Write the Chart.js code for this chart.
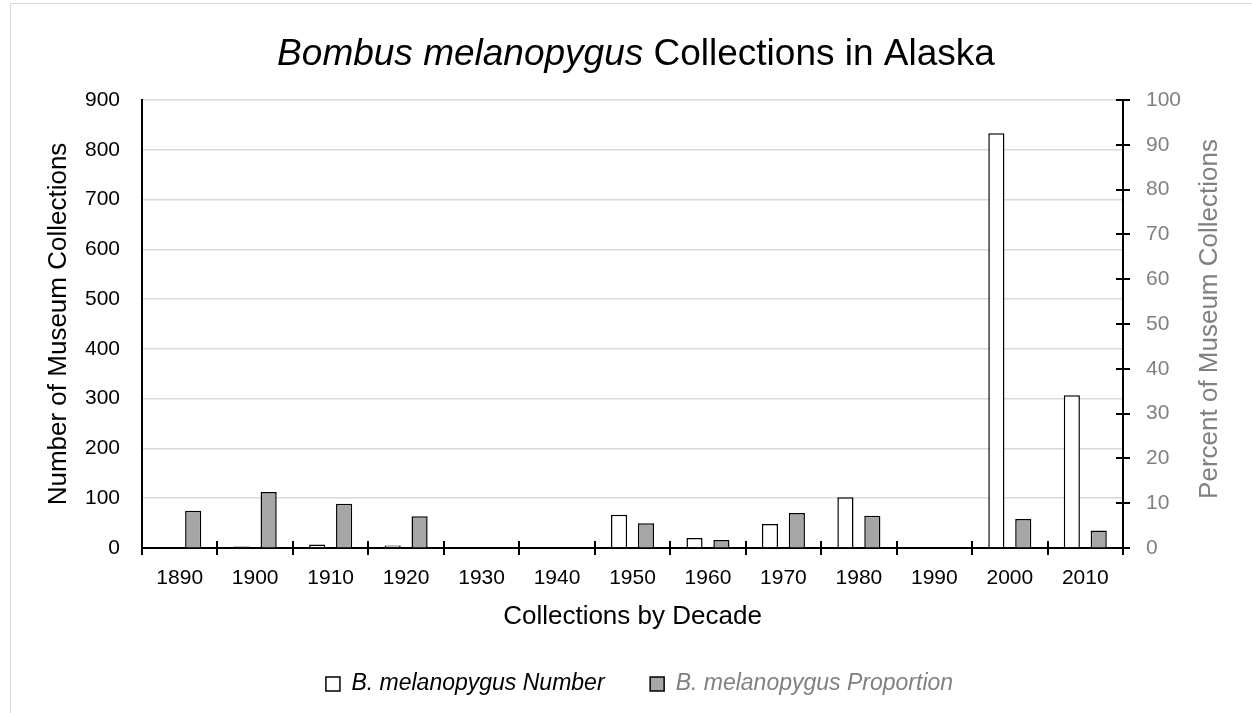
<!DOCTYPE html>
<html>
<head>
<meta charset="utf-8">
<script src="https://cdn.jsdelivr.net/npm/chart.js@4.4.1/dist/chart.umd.min.js"></script>
<style>
html,body{margin:0;padding:0;background:#fff;}
canvas{display:block;}
</style>
</head>
<body>
<canvas id="c" width="1252" height="713"></canvas>
<script>
// ---- data ----
const decades = ['1890','1900','1910','1920','1930','1940','1950','1960','1970','1980','1990','2000','2010'];
const numberValues = [2, 3, 7, 5, null, null, 67, 20, 48, 102, null, 833, 307];
const proportionValues = [8.3, 12.5, 9.9, 7.1, null, null, 5.5, 1.8, 7.8, 7.2, null, 6.5, 3.9];
const countTicks = [0, 100, 200, 300, 400, 500, 600, 700, 800, 900];
const percentTicks = [0, 10, 20, 30, 40, 50, 60, 70, 80, 90, 100];
const seriesNames = ['B. melanopygus Number', 'B. melanopygus Proportion'];
const titleItalic = 'Bombus melanopygus';
const titleRest = ' Collections in Alaska';
const xTitle = 'Collections by Decade';
const yTitle = 'Number of Museum Collections';
const y1Title = 'Percent of Museum Collections';

const FONT = "'Liberation Sans', Arial, Helvetica, sans-serif";
const GRAY_TEXT = '#808080';

const framePlugin = {
  id: 'frame',
  beforeDraw(chart) {
    const ctx = chart.ctx;
    ctx.save();
    ctx.fillStyle = '#ffffff';
    ctx.fillRect(0, 0, chart.width, chart.height);
    ctx.strokeStyle = '#d9d9d9';
    ctx.lineWidth = 1;
    ctx.beginPath();
    ctx.moveTo(10.5, chart.height);
    ctx.lineTo(10.5, 3.5);
    ctx.lineTo(chart.width, 3.5);
    ctx.stroke();
    ctx.restore();
  }
};

const textPlugin = {
  id: 'richText',
  afterDraw(chart) {
    const ctx = chart.ctx;
    ctx.save();
    const size = 37;
    const itFont = 'italic ' + size + 'px ' + FONT;
    const nmFont = size + 'px ' + FONT;
    ctx.font = itFont;
    const w1 = ctx.measureText(titleItalic).width;
    ctx.font = nmFont;
    const w2 = ctx.measureText(titleRest).width;
    const cx = 636;
    const x0 = cx - (w1 + w2) / 2;
    ctx.fillStyle = '#000';
    ctx.textAlign = 'left';
    ctx.textBaseline = 'alphabetic';
    ctx.font = itFont;
    ctx.fillText(titleItalic, x0, 65);
    ctx.font = nmFont;
    ctx.fillText(titleRest, x0 + w1, 65);
    // right axis title (reads bottom-to-top)
    ctx.translate(1210, 319);
    ctx.rotate(-Math.PI / 2);
    ctx.font = '26px ' + FONT;
    ctx.fillStyle = GRAY_TEXT;
    ctx.textAlign = 'center';
    ctx.textBaseline = 'middle';
    ctx.fillText(y1Title, 0, 0);
    ctx.restore();
  }
};

const crossTicks = {
  id: 'crossTicks',
  afterDatasetsDraw(chart) {
    const {ctx, scales} = chart;
    const x = scales.x, y1 = scales.y1;
    ctx.save();
    ctx.strokeStyle = '#000';
    ctx.lineWidth = 2;
    ctx.beginPath();
    const base = x.top;
    const n = decades.length;
    for (let i = 0; i <= n; i++) {
      let px;
      if (i === 0) px = x.left;
      else if (i === n) px = x.right;
      else px = (x.getPixelForTick(i - 1) + x.getPixelForTick(i)) / 2;
      px = Math.round(px);
      ctx.moveTo(px, base - 7);
      ctx.lineTo(px, base + 7);
    }
    y1.ticks.forEach((t, i) => {
      const py = Math.round(y1.getPixelForTick(i));
      ctx.moveTo(y1.left - 7, py);
      ctx.lineTo(y1.left + 7, py);
    });
    ctx.stroke();
    ctx.restore();
  }
};

new Chart(document.getElementById('c').getContext('2d'), {
  type: 'bar',
  data: {
    labels: decades,
    datasets: [
      {
        label: seriesNames[0],
        data: numberValues,
        yAxisID: 'y',
        backgroundColor: '#ffffff',
        borderColor: '#000000',
        borderWidth: 1.5,
        categoryPercentage: 0.713,
        barPercentage: 0.6
      },
      {
        label: seriesNames[1],
        data: proportionValues,
        yAxisID: 'y1',
        backgroundColor: '#a6a6a6',
        borderColor: '#000000',
        borderWidth: 1.5,
        categoryPercentage: 0.713,
        barPercentage: 0.6
      }
    ]
  },
  options: {
    responsive: false,
    animation: false,
    devicePixelRatio: 1,
    events: [],
    layout: { padding: { left: 27, right: 0, top: 100, bottom: 7.5 } },
    plugins: {
      title: { display: false },
      tooltip: { enabled: false },
      legend: {
        display: true,
        position: 'bottom',
        align: 'center',
        labels: {
          font: { family: FONT, size: 23, style: 'italic' },
          color: '#000',
          boxWidth: 14,
          boxHeight: 14,
          padding: 45.6,
          generateLabels(chart) {
            const items = Chart.defaults.plugins.legend.labels.generateLabels(chart);
            if (items[1]) items[1].fontColor = GRAY_TEXT;
            return items;
          }
        }
      }
    },
    scales: {
      x: {
        grid: { display: false, drawTicks: false },
        border: { display: true, color: '#000', width: 2 },
        ticks: { font: { family: FONT, size: 21 }, color: '#000', padding: 18, maxRotation: 0, autoSkip: false },
        title: { display: true, text: xTitle, font: { family: FONT, size: 26 }, color: '#000', padding: { top: 0, bottom: -5.4 } },
        afterFit(s) { s.height = 78.9; }
      },
      y: {
        position: 'left',
        min: countTicks[0],
        max: countTicks[countTicks.length - 1],
        ticks: { stepSize: countTicks[1] - countTicks[0], font: { family: FONT, size: 21 }, color: '#000', padding: 22 },
        grid: { color: '#d9d9d9', lineWidth: 1.5, drawTicks: false },
        border: { display: true, color: '#000', width: 2 },
        title: { display: true, text: yTitle, font: { family: FONT, size: 26 }, color: '#000', padding: { top: 16.4, bottom: 0 } },
        afterFit(s) { s.width = 115; }
      },
      y1: {
        position: 'right',
        min: percentTicks[0],
        max: percentTicks[percentTicks.length - 1],
        ticks: { stepSize: percentTicks[1] - percentTicks[0], font: { family: FONT, size: 21 }, color: GRAY_TEXT, padding: 23 },
        grid: { drawOnChartArea: false, drawTicks: false },
        border: { display: true, color: '#000', width: 2 },
        afterFit(s) { s.width = 129; }
      }
    }
  },
  plugins: [framePlugin, textPlugin, crossTicks]
});
</script>
</body>
</html>
